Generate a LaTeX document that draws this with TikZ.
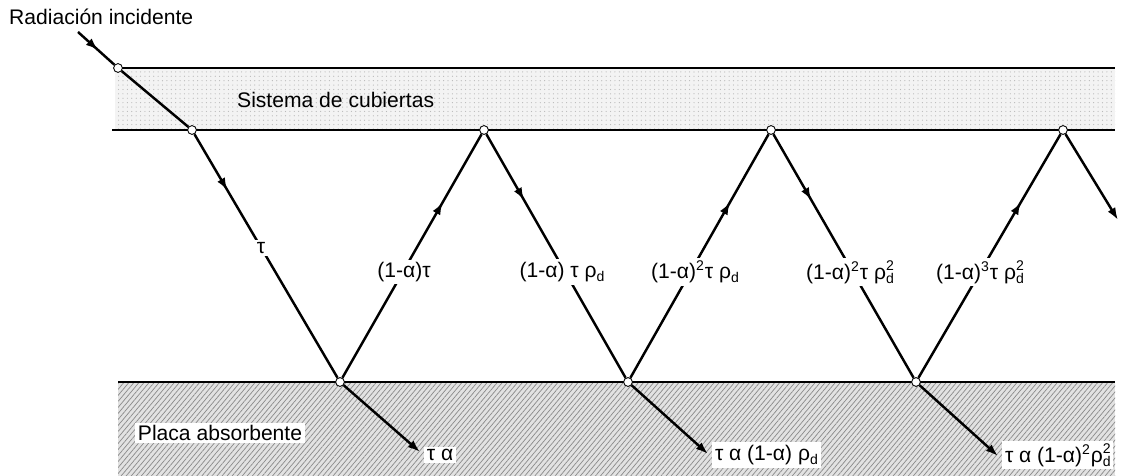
\documentclass[tikz,border=0pt]{standalone}
\usepackage{fontspec}
\setmainfont{Liberation Sans}
\usetikzlibrary{arrows.meta, decorations.markings, patterns.meta}
\definecolor{cover-fill}{HTML}{F3F3F3}
\definecolor{plate-fill}{HTML}{E2E2E2}
\definecolor{hatch-gray}{HTML}{8A8A8A}
\newcommand{\smalltxt}[1]{\mbox{\fontsize{8}{9}\selectfont #1}}
\newcommand{\rhoD}{ρ\raisebox{-2.5pt}{\smalltxt{d}}}
\newcommand{\rhoDD}{ρ\rlap{\raisebox{5pt}{\smalltxt{2}}}\raisebox{-2.5pt}{\smalltxt{d}}}

\begin{document}
\begin{tikzpicture}[x=0.02cm, y=-0.02cm,
      every node/.style={font=\fontsize{12}{14}\selectfont},
      ray/.style={line width=1.4pt},
      junction/.style={circle, draw, fill=white, inner sep=0pt,
          minimum size=5pt, line width=0.5pt},
      lbl/.style={fill=white, inner sep=1.5pt},
      midarrow/.style={ray, postaction={decorate}, decoration={markings,
          mark=at position #1 with {\arrow{Latex[length=7pt,width=5pt]}}}},
      tip/.style={ray, -{Latex[length=7pt,width=5pt]}}]
    \useasboundingbox (0,0) rectangle (1128,476);
    \fill[cover-fill] (115,68) rectangle (1115,130);
    \fill[pattern={Dots[distance=2.5pt, radius=0.35pt]}, pattern color=gray!55]
          (115,68) rectangle (1115,130);
    \draw[line width=1.2pt] (118,68) -- (1115,68);
    \draw[line width=1.2pt] (112,130) -- (1115,130);
    \fill[plate-fill] (118,382) rectangle (1115,476);
    \fill[pattern={Lines[angle=50, distance=2.2pt, line width=0.4pt]},
          pattern color=hatch-gray] (118,382) rectangle (1115,476);
    \draw[line width=1.2pt] (118,382) -- (1115,382);
    \node[junction] (c0) at (118,68) {};
    \node[junction] (t1) at (192,130) {};
    \node[junction] (t2) at (484,130) {};
    \node[junction] (t3) at (771,130) {};
    \node[junction] (t4) at (1063,130) {};
    \node[junction] (b1) at (340,382) {};
    \node[junction] (b2) at (628,382) {};
    \node[junction] (b3) at (916,382) {};
    \coordinate (src) at (78,32);
    \coordinate (out) at (1118,220);
    \coordinate (a1) at (420,452);
    \coordinate (a2) at (708,454);
    \coordinate (a3) at (998,456);
    \draw[midarrow=0.55] (src) -- (c0);
    \draw[ray] (c0) -- (t1);
    \draw[midarrow=0.23] (t1) -- (b1);
    \draw[midarrow=0.72] (b1) -- (t2);
    \draw[midarrow=0.27] (t2) -- (b2);
    \draw[midarrow=0.72] (b2) -- (t3);
    \draw[midarrow=0.27] (t3) -- (b3);
    \draw[midarrow=0.72] (b3) -- (t4);
    \draw[tip] (t4) -- (out);
    \draw[tip] (b1) -- (a1);
    \draw[tip] (b2) -- (a2);
    \draw[tip] (b3) -- (a3);
    \node[anchor=west] (rad) at (3,17) {Radiación incidente};
    \node[anchor=west] (cub) at (231,100) {Sistema de cubiertas};
    \node[lbl, anchor=west] (placa) at (135,433) {Placa absorbente};
    \node[lbl] (tau) at (261,248) {τ};
    \node[lbl] (m1) at (404,272) {(1-α)τ};
    \node[lbl] (m2) at (562,272) {(1-α) τ \rhoD};
    \node[lbl] (m3) at (695,272) {(1-α)\textsuperscript{2}τ \rhoD};
    \node[lbl] (m4) at (850,272) {(1-α)\textsuperscript{2}τ \rhoDD};
    \node[lbl] (m5) at (980,272) {(1-α)\textsuperscript{3}τ \rhoDD};
    \node[lbl, anchor=west] (o1) at (424,455) {τ α};
    \node[lbl, anchor=west] (o2) at (712,455) {τ α (1-α) \rhoD};
    \node[lbl, anchor=west] (o3) at (1002,455) {τ α (1-α)\textsuperscript{2}\rhoDD};
  \end{tikzpicture}
\end{document}
